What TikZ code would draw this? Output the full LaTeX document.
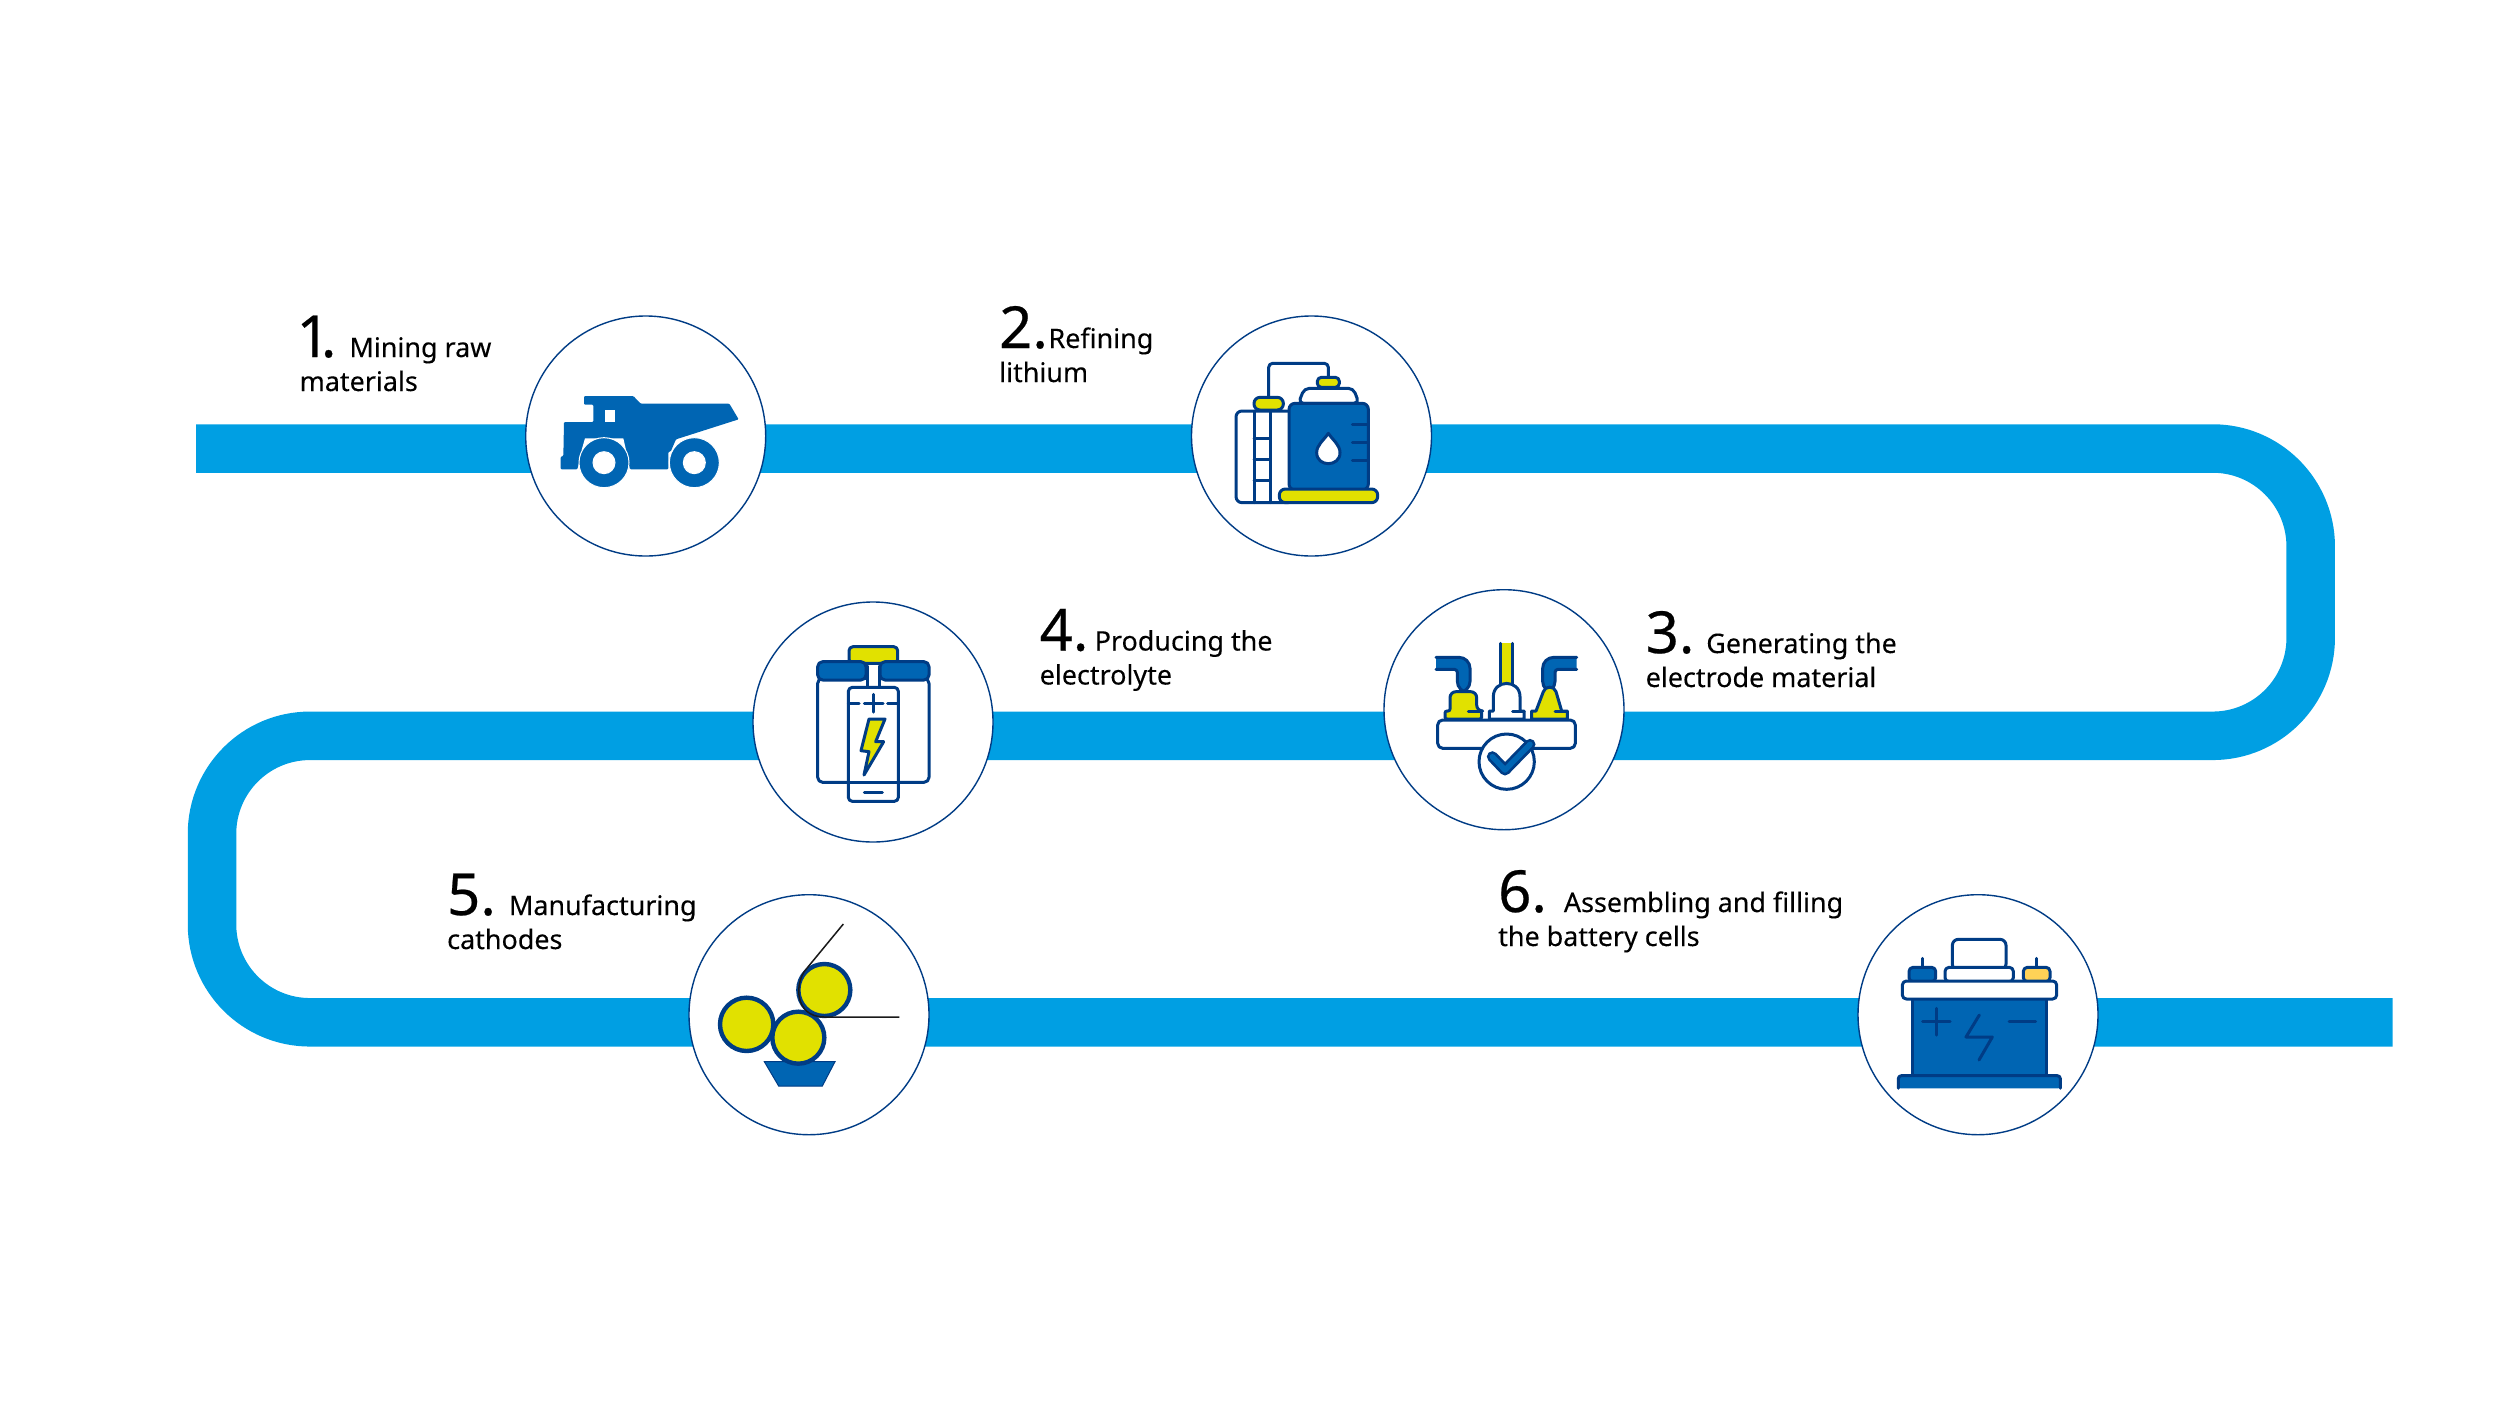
\documentclass[tikz,border=0pt]{standalone}
\usepackage{fontspec}
\setmainfont[FakeBold=0.2]{Noto Sans}
\newfontfamily\stepnumfont[FakeBold=0.4]{Noto Sans}
\definecolor{pipecol}{HTML}{009FE3}
\definecolor{icblue}{HTML}{0065B3}
\definecolor{icdark}{HTML}{003C85}
\definecolor{icyellow}{HTML}{E1E100}
\definecolor{icamber}{HTML}{FFD257}
\newcommand{\stepnum}[2]{\makebox[#2][l]{\stepnumfont\fontsize{58}{34}\selectfont #1}}
\begin{document}
\begin{tikzpicture}[x=1pt,y=-1pt,
    pipeline/.style={draw=pipecol,line width=48.5pt,rounded corners=98pt},
    stepcircle/.style={circle,draw=icdark,line width=1.4pt,fill=white,minimum size=240pt,inner sep=0pt},
    steptext/.style={anchor=base west,align=left,inner sep=0pt,font=\fontsize{26.9}{34}\selectfont},
    icline/.style={draw=icdark,line width=3pt,line join=round,line cap=round}]
  \useasboundingbox (0,0) rectangle (2500,1406);
  \coordinate (pipestart) at (196,448.5);
  \coordinate (bendne) at (2310.7,448.5);
  \coordinate (bendse) at (2310.7,735.8);
  \coordinate (bendnw) at (212,735.8);
  \coordinate (bendsw) at (212,1022.3);
  \coordinate (pipeend) at (2392.7,1022.3);
  \draw[pipeline] (pipestart) -- (bendne) -- (bendse) -- (bendnw) -- (bendsw) -- (pipeend);

  \node[stepcircle] (mining) at (645.7,436) {};
  \node[stepcircle] (refining) at (1311.5,436) {};
  \node[stepcircle] (electrode) at (1504,709.7) {};
  \node[stepcircle] (electrolyte) at (873,722) {};
  \node[stepcircle] (cathode) at (809,1014.7) {};
  \node[stepcircle] (assembly) at (1978,1014.7) {};

  \node[steptext] (mininglabel) at (299.5,391) {\stepnum{\hspace{-3pt}1\kern-9pt.}{49.8pt}Mining raw\\materials};
  \node[steptext] (refininglabel) at (999,382) {\stepnum{2.}{49.3pt}Refining\\lithium};
  \node[steptext] (electrodelabel) at (1645.5,687) {\stepnum{3.}{60.6pt}Generating the\\electrode material};
  \node[steptext] (electrolytelabel) at (1039.5,684.5) {\stepnum{4.}{55pt}Producing the\\electrolyte};
  \node[steptext] (cathodelabel) at (447,949) {\stepnum{5.}{61.8pt}Manufacturing\\cathodes};
  \node[steptext] (assemblylabel) at (1498,946) {\stepnum{6.}{65.7pt}Assembling and filling\\the battery cells};

  % truck
  \begin{scope}[shift={(520,310)},scale=1/3]
    \fill[icblue,rounded corners=1pt] (192,258) -- (340,258) -- (362,281) -- (628,281) -- (656,328) -- (468,388)
      -- (452,425) -- (445,425) -- (445,478) -- (330,478) -- (318,425) -- (185,425) -- (172,478)
      -- (122,478) -- (122,440) -- (130,438) -- (132,336) -- (220,336) -- (220,284) -- (192,284) -- cycle;
    \fill[white] (256,300) rectangle (285,336);
    \fill[white] (195,385) -- (310,385) -- (318,420) -- (185,420) -- cycle;
    \filldraw[icblue,even odd rule,draw=white,line width=1pt] (252,458) circle[radius=75] (252,458) circle[radius=33];
    \filldraw[icblue,even odd rule,draw=white,line width=1pt] (523,458) circle[radius=75] (523,458) circle[radius=33];
  \end{scope}

  % refinery
  \begin{scope}[shift={(1190,310)},scale=1/3]
    \draw[icline,rounded corners=6pt] (295,578) -- (138,578) -- (138,303) -- (295,303);
    \draw[icline] (192,303) -- (192,578) (240,303) -- (240,578);
    \draw[icline] (192,384) -- (240,384) (192,449) -- (240,449) (192,512) -- (240,512);
    \draw[icline,rounded corners=4pt] (236,262) -- (236,160) -- (415,160) -- (415,202);
    \filldraw[icline,fill=icyellow,rounded corners=6pt] (192,300) -- (192,262) -- (280,262) -- (280,300) -- cycle;
    \filldraw[icline,fill=white,rounded corners=5pt] (325,280) -- (343,235) -- (490,235) -- (507,280) -- cycle;
    \filldraw[icline,fill=icyellow,rounded corners=4pt] (382,232) -- (382,202) -- (448,202) -- (448,232) -- cycle;
    \filldraw[icline,fill=icblue,rounded corners=6pt] (297,540) -- (297,280) -- (535,280) -- (535,540) -- cycle;
    \draw[icline] (487,343) -- (530,343) (487,397) -- (530,397) (487,451) -- (530,451);
    \filldraw[icline,fill=white] (415,370) .. controls (400,392) and (380,405) .. (380,428)
      .. controls (380,472) and (450,472) .. (450,428) .. controls (450,405) and (430,392) .. (415,370) -- cycle;
    \filldraw[icline,fill=icyellow,rounded corners=6pt] (268,578) -- (268,537) -- (563,537) -- (563,578) -- cycle;
  \end{scope}

  % electrode station
  \begin{scope}[shift={(1380,585)},scale=1/3]
    \fill[icyellow] (362,175) rectangle (398,300);
    \draw[icline] (362,175) -- (362,300) (398,175) -- (398,300);
    \filldraw[icline,fill=icblue,rounded corners=11pt] (168,217) -- (270,217) -- (270,322) -- (232,322)
      [rounded corners=3pt] -- (232,253) -- (168,253);
    \filldraw[icline,fill=icblue,rounded corners=11pt] (590,217) -- (488,217) -- (488,322) -- (525,322)
      [rounded corners=3pt] -- (525,253) -- (590,253);
    \filldraw[icline,fill=icyellow,rounded corners=2pt] (195,402) -- (195,378) -- (210,378)
      [rounded corners=6pt] -- (210,320) -- (290,320) -- (290,378) [rounded corners=2pt] -- (305,378) -- (305,402) -- cycle;
    \draw[icline] (265,378) -- (305,378);
    \filldraw[icline,fill=white] (328,402) -- (328,378) -- (340,378) -- (340,335)
      .. controls (340,282) and (420,282) .. (420,335) -- (420,378) -- (432,378) -- (432,402) -- cycle;
    \draw[icline] (398,378) -- (432,378);
    \filldraw[icline,fill=icyellow] (455,402) -- (455,378) -- (468,378) -- (490,320)
      .. controls (495,302) and (523,302) .. (528,320) -- (545,378) -- (562,378) -- (562,402) -- cycle;
    \draw[icline] (525,378) -- (562,378);
    \filldraw[icline,fill=white,rounded corners=5pt] (173,405) rectangle (586,490);
    \filldraw[icline,fill=white] (380,530) circle[radius=83];
    \draw[draw=icdark,line width=11pt,line cap=round,line join=round] (337,515) -- (375,555) -- (450,478);
    \draw[draw=icblue,line width=5.5pt,line cap=round,line join=round] (337,515) -- (375,555) -- (450,478);
  \end{scope}

  % electrolyte cell
  \begin{scope}[shift={(745,600)},scale=1/3]
    \filldraw[icline,fill=icyellow,rounded corners=4pt] (312,190) -- (312,140) -- (458,140) -- (458,190) -- cycle;
    \filldraw[icline,fill=white,rounded corners=5pt] (218,235) -- (218,547) -- (552,547) -- (552,235) -- cycle;
    \filldraw[icline,fill=icblue,rounded corners=5pt] (218,185) rectangle (363,240);
    \filldraw[icline,fill=icblue,rounded corners=5pt] (405,185) rectangle (552,240);
    \fill[white] (368,198) rectangle (402,262);
    \draw[icline] (367,198) -- (367,262) (403,198) -- (403,262);
    \filldraw[icline,fill=white,rounded corners=4pt] (310,262) rectangle (460,604);
    \draw[icline] (310,310) -- (342,310) (428,310) -- (460,310) (358,310) -- (414,310) (386,283) -- (386,336);
    \draw[icline] (310,548) -- (460,548) (358,576) -- (412,576);
    \filldraw[icline,fill=icyellow] (372,357) -- (420,357) -- (392,425) -- (416,425) -- (357,525) -- (372,455) -- (348,452) -- cycle;
  \end{scope}

  % cathode rollers
  \begin{scope}[shift={(680,890)},scale=1/3]
    \filldraw[draw=icdark,line width=1pt,fill=icblue] (253,515) -- (465,515) -- (427,588) -- (296,588) -- cycle;
    \filldraw[draw=icdark,line width=4.4pt,fill=icyellow] (200,403) circle[radius=80];
    \filldraw[draw=icdark,line width=4.4pt,fill=icyellow] (355,443) circle[radius=78];
    \filldraw[draw=icdark,line width=4.4pt,fill=icyellow] (433,300) circle[radius=78];
    \draw[black!90,line width=1.5pt] (490,102) -- (378,238) .. controls (345,275) and (340,381) .. (433,381) -- (658,381);
  \end{scope}

  % battery
  \begin{scope}[shift={(1860,890)},scale=1/3]
    \draw[icline] (186,205) -- (186,232) (529,205) -- (529,232);
    \filldraw[icline,fill=icblue,rounded corners=4pt] (147,275) -- (147,232) -- (227,232) -- (227,275) -- cycle;
    \filldraw[icline,fill=icamber,rounded corners=4pt] (490,275) -- (490,232) -- (570,232) -- (570,275) -- cycle;
    \filldraw[icline,fill=white,rounded corners=6pt] (277,240) -- (277,148) -- (438,148) -- (438,240) -- cycle;
    \filldraw[icline,fill=white,rounded corners=4pt] (255,275) -- (255,232) -- (460,232) -- (460,275) -- cycle;
    \filldraw[icline,fill=icblue] (157,325) rectangle (560,558);
    \filldraw[icline,fill=white,rounded corners=4pt] (127,273) rectangle (590,327);
    \fill[icblue,rounded corners=3pt] (113,595) -- (113,555) -- (603,555) -- (603,595) -- cycle;
    \draw[icline,rounded corners=3pt] (115,595) -- (115,557) -- (601,557) -- (601,595);
    \draw[icline] (228,355) -- (228,435) (188,395) -- (270,395) (447,395) -- (527,395);
    \draw[icline] (358,375) -- (318,441) -- (397,441) -- (357,510);
  \end{scope}
\end{tikzpicture}
\end{document}
